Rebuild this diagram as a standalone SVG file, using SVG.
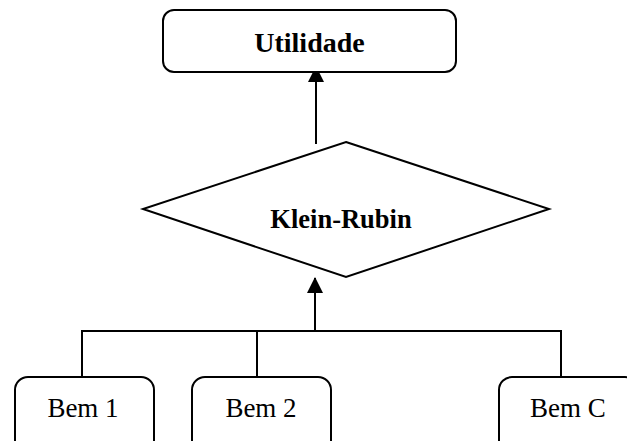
<svg xmlns="http://www.w3.org/2000/svg" width="627" height="441" viewBox="0 0 627 441">
<style>
.box{fill:#fff;stroke:#000;stroke-width:2}
.ln{fill:none;stroke:#000;stroke-width:2}
.tb{font-family:"Liberation Serif",serif;font-weight:bold;fill:#000;text-anchor:middle}
.tr{font-family:"Liberation Serif",serif;font-size:27px;fill:#000;text-anchor:middle}
</style>
<defs>
<marker id="ah" viewBox="0 0 16 16" refX="15" refY="8" markerWidth="16" markerHeight="16" markerUnits="userSpaceOnUse" orient="auto">
<path d="M0,0 L16,8 L0,16 Z" fill="#000"/>
</marker>
</defs>
<rect width="627" height="441" fill="#fff"/>
<g id="connectors">
<line class="ln" x1="316" y1="144" x2="316" y2="67" marker-end="url(#ah)"/>
<line class="ln" x1="315" y1="331" x2="315" y2="278" marker-end="url(#ah)"/>
<polyline class="ln" points="82,377 82,331 561,331 561,377"/>
<line class="ln" x1="257" y1="331" x2="257" y2="377"/>
</g>
<g id="utilidade">
<rect class="box" x="163" y="10" width="293" height="62" rx="11"/>
<text class="tb" x="309.5" y="52" font-size="28">Utilidade</text>
</g>
<g id="klein-rubin">
<polygon class="box" points="346,142 549,209 346,277 143,209"/>
<text class="tb" x="341" y="228" font-size="26.5">Klein-Rubin</text>
</g>
<g id="bem1">
<rect class="box" x="15" y="377" width="139" height="90" rx="13"/>
<text class="tr" x="83" y="417">Bem 1</text>
</g>
<g id="bem2">
<rect class="box" x="192" y="377" width="139" height="90" rx="13"/>
<text class="tr" x="261" y="417">Bem 2</text>
</g>
<g id="bemc">
<rect class="box" x="499" y="377" width="139" height="90" rx="13"/>
<text class="tr" x="568" y="417">Bem C</text>
</g>
</svg>
